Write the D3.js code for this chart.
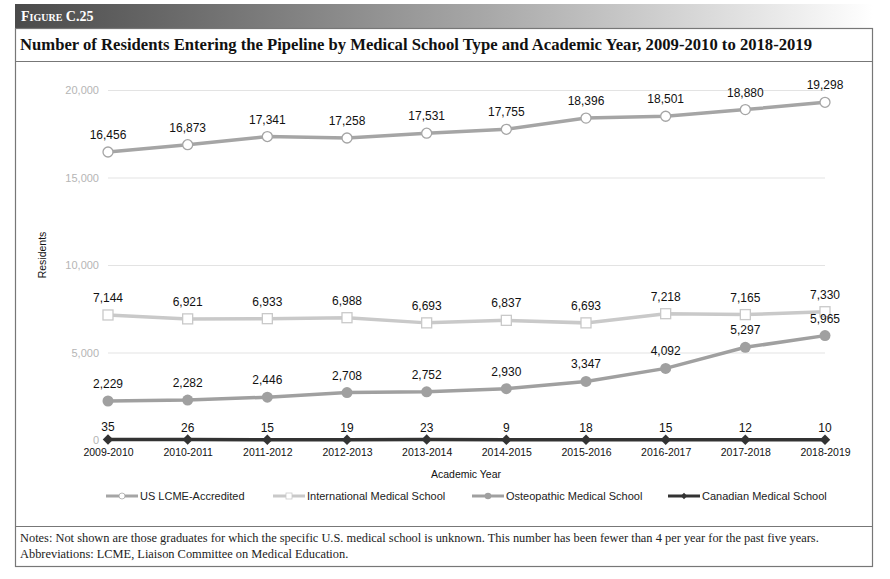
<!DOCTYPE html>
<html>
<head>
<meta charset="utf-8">
<script src="https://cdn.jsdelivr.net/npm/d3@7"></script>
<style>
  body { margin: 0; background: #fff; }
  svg { display: block; }
</style>
</head>
<body>
<div id="root"></div>
<script>
// data
const years = ['2009-2010', '2010-2011', '2011-2012', '2012-2013', '2013-2014',
  '2014-2015', '2015-2016', '2016-2017', '2017-2018', '2018-2019'];
const usLcme = [16456, 16873, 17341, 17258, 17531, 17755, 18396, 18501, 18880, 19298];
const international = [7144, 6921, 6933, 6988, 6693, 6837, 6693, 7218, 7165, 7330];
const osteopathic = [2229, 2282, 2446, 2708, 2752, 2930, 3347, 4092, 5297, 5965];
const canadian = [35, 26, 15, 19, 23, 9, 18, 15, 12, 10];
const yTicks = [0, 5000, 10000, 15000, 20000];

// labelGap = how far above the point the value label sits
const series = [
  { name: 'US LCME-Accredited', values: usLcme, color: '#a5a5a5', marker: 'openCircle', labelGap: 13 },
  { name: 'International Medical School', values: international, color: '#c9c9c9', marker: 'openSquare', labelGap: 13 },
  { name: 'Osteopathic Medical School', values: osteopathic, color: '#a0a0a0', marker: 'circle', labelGap: 13 },
  { name: 'Canadian Medical School', values: canadian, color: '#333333', marker: 'diamond', labelGap: 8 },
];

const width = 890;
const height = 579;
const fmt = d3.format(',');

const svg = d3.select('#root')
  .append('svg')
  .attr('width', width)
  .attr('height', height);

// header bar with gradient
const defs = svg.append('defs');
const grad = defs.append('linearGradient').attr('id', 'hdr');
grad.append('stop').attr('offset', '0%').attr('stop-color', '#4a4a4a');
grad.append('stop').attr('offset', '55%').attr('stop-color', '#a8a8a8');
grad.append('stop').attr('offset', '100%').attr('stop-color', '#ffffff');

svg.append('rect')
  .attr('x', 15).attr('y', 4)
  .attr('width', 858).attr('height', 24)
  .attr('fill', 'url(#hdr)');

svg.append('text')
  .attr('x', 21).attr('y', 21)
  .attr('fill', '#fff')
  .attr('font-family', 'Liberation Serif, serif')
  .attr('font-weight', 'bold')
  .attr('font-size', 14)
  .style('font-variant', 'small-caps')
  .text('Figure C.25');

// outer boxes
const box = svg.append('g')
  .attr('fill', 'none')
  .attr('stroke', '#777')
  .attr('stroke-width', 1.2);
box.append('rect').attr('x', 15.5).attr('y', 28.5).attr('width', 857).attr('height', 538);
box.append('line').attr('x1', 15.5).attr('x2', 872.5).attr('y1', 61.5).attr('y2', 61.5);
box.append('line').attr('x1', 15.5).attr('x2', 872.5).attr('y1', 526.5).attr('y2', 526.5);

svg.append('text')
  .attr('x', 20).attr('y', 50)
  .attr('font-family', 'Liberation Serif, serif')
  .attr('font-weight', 'bold')
  .attr('font-size', 16.5)
  .attr('fill', '#111')
  .attr('textLength', 792)
  .attr('lengthAdjust', 'spacingAndGlyphs')
  .text('Number of Residents Entering the Pipeline by Medical School Type and Academic Year, 2009-2010 to 2018-2019');

const notes = svg.append('g')
  .attr('font-family', 'Liberation Serif, serif')
  .attr('font-size', 12.4)
  .attr('fill', '#222');
notes.append('text').attr('x', 20).attr('y', 542)
  .text('Notes: Not shown are those graduates for which the specific U.S. medical school is unknown. This number has been fewer than 4 per year for the past five years.');
notes.append('text').attr('x', 20).attr('y', 558)
  .text('Abbreviations: LCME, Liaison Committee on Medical Education.');

// chart
const x = d3.scalePoint().domain(years).range([108, 825]);
const y = d3.scaleLinear().domain([0, 20000]).range([440, 90]);

const chart = svg.append('g')
  .attr('font-family', 'Liberation Sans, Arial, sans-serif');

const yAxis = chart.append('g')
  .attr('transform', 'translate(108,0)')
  .call(d3.axisLeft(y).tickValues(yTicks).tickFormat(fmt).tickSize(-(825 - 108)).tickPadding(9));
yAxis.select('.domain').remove();
yAxis.selectAll('.tick line').attr('stroke', '#e3e3e3');
yAxis.selectAll('.tick text')
  .attr('fill', '#b5b5b5')
  .attr('font-size', 11)
  .attr('font-family', 'Liberation Sans, Arial, sans-serif');

const xAxis = chart.append('g')
  .attr('transform', 'translate(0,440)')
  .call(d3.axisBottom(x).tickSize(0).tickPadding(9));
xAxis.select('.domain').remove();
xAxis.selectAll('.tick text')
  .attr('fill', '#111')
  .attr('font-size', 10.5)
  .attr('font-family', 'Liberation Sans, Arial, sans-serif');

chart.append('text')
  .attr('transform', 'translate(46,255) rotate(-90)')
  .attr('text-anchor', 'middle')
  .attr('font-size', 10.5)
  .attr('fill', '#111')
  .text('Residents');

chart.append('text')
  .attr('x', 466).attr('y', 478)
  .attr('text-anchor', 'middle')
  .attr('font-size', 10.5)
  .attr('fill', '#111')
  .text('Academic Year');

const line = d3.line()
  .x((d, i) => x(years[i]))
  .y(d => y(d));

function drawMarker(g, type, color, cx, cy) {
  if (type === 'openCircle') {
    g.append('circle').attr('cx', cx).attr('cy', cy).attr('r', 5)
      .attr('fill', '#fff').attr('stroke', color).attr('stroke-width', 1.3);
  } else if (type === 'openSquare') {
    g.append('rect').attr('x', cx - 5).attr('y', cy - 5).attr('width', 10).attr('height', 10)
      .attr('fill', '#fff').attr('stroke', color).attr('stroke-width', 1.3);
  } else if (type === 'circle') {
    g.append('circle').attr('cx', cx).attr('cy', cy).attr('r', 5.5).attr('fill', color);
  } else {
    g.append('path')
      .attr('d', d3.symbol(d3.symbolDiamond2, 70)())
      .attr('transform', `translate(${cx},${cy})`)
      .attr('fill', color);
  }
}

series.forEach(s => {
  const g = chart.append('g');
  g.append('path')
    .datum(s.values)
    .attr('d', line)
    .attr('fill', 'none')
    .attr('stroke', s.color)
    .attr('stroke-width', 3.5);
  s.values.forEach((v, i) => {
    drawMarker(g, s.marker, s.color, x(years[i]), y(v));
  });
  g.selectAll('text.lbl')
    .data(s.values)
    .join('text')
    .attr('class', 'lbl')
    .attr('x', (d, i) => x(years[i]))
    .attr('y', d => y(d) - s.labelGap)
    .attr('text-anchor', 'middle')
    .attr('font-size', 12)
    .attr('fill', '#111')
    .text(d => fmt(d));
});

// legend
const legendX = [106, 273, 472, 668];
const legend = chart.append('g');
series.forEach((s, i) => {
  const lx = legendX[i];
  const ly = 496;
  legend.append('line')
    .attr('x1', lx).attr('x2', lx + 32)
    .attr('y1', ly).attr('y2', ly)
    .attr('stroke', s.color).attr('stroke-width', 3);
  const cx = lx + 16;
  const mg = legend.append('g').attr('transform', `translate(${cx},${ly}) scale(0.6) translate(${-cx},${-ly})`);
  drawMarker(mg, s.marker, s.color, cx, ly);
  legend.append('text')
    .attr('x', lx + 34).attr('y', ly + 4)
    .attr('font-size', 11)
    .attr('fill', '#222')
    .text(s.name);
});
</script>
</body>
</html>
